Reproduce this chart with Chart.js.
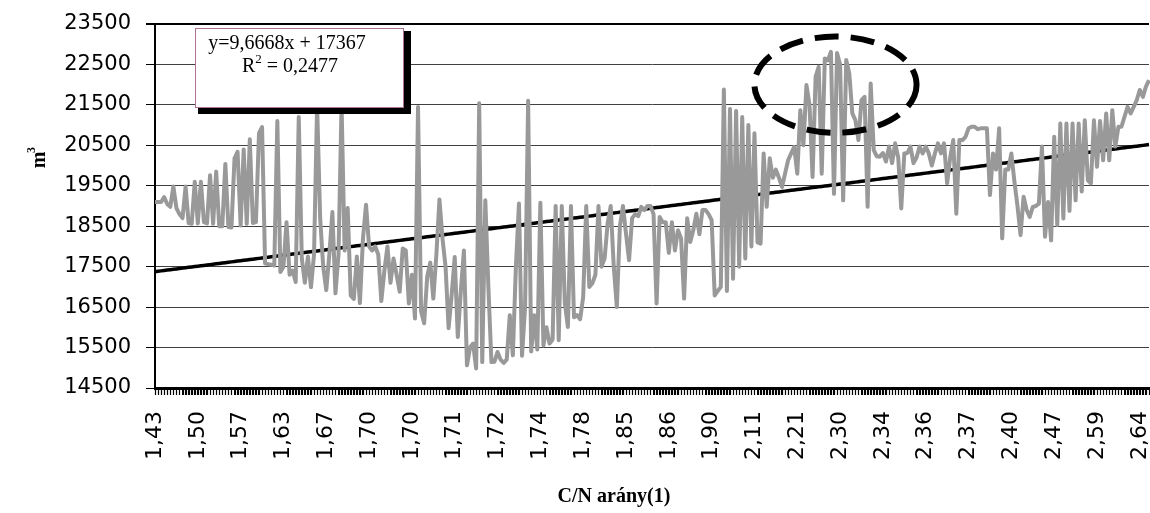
<!DOCTYPE html>
<html>
<head>
<meta charset="utf-8">
<title>C/N arány</title>
<script src="https://cdn.jsdelivr.net/npm/chart.js@4.4.1/dist/chart.umd.min.js"></script>
<style>
    html, body { margin: 0; padding: 0; background: #fff; }
    #wrap { width: 1150px; height: 513px; position: relative; }
</style>
</head>
<body>
<div id="wrap"><canvas id="chart" width="1150" height="513"></canvas></div>
<script>
// tick labels shown every 14th category
const tickLabels = ['1,43', '1,50', '1,57', '1,63', '1,67', '1,70', '1,70', '1,71', '1,72', '1,74', '1,78', '1,85',
    '1,86', '1,90', '2,11', '2,21', '2,30', '2,34', '2,36', '2,37', '2,40', '2,47', '2,59', '2,64'];
const labelStep = 14;

// m3 values
const volumes = [
    19100, 19100, 19100, 19220, 19050, 18980, 19480, 18950, 18800, 18700, 19480, 18580, 18560, 19600, 18570, 19600,
    18600, 18570, 19760, 18560, 19850, 18500, 18500, 20040, 18480, 18470, 20180, 20340, 18520, 20400, 18560, 20650,
    18580, 18600, 20800, 20950, 17580,
    17560, 17550, 17530, 21100, 17370, 17500, 18600, 17300, 17400, 17120, 21200, 17700, 17100, 17750, 16990, 17800,
    21500, 18700, 17500, 16920, 17800, 18850, 16840, 17800, 21500, 17900, 18950, 16790, 16700, 17750, 16600, 18200,
    19030, 18000, 17900, 18000, 17800, 16650, 17400, 18000, 17100, 17700, 17300, 16880, 17950, 17900, 16590, 17300,
    16220, 21450,
    16400, 16100, 17250, 17600, 16710, 17800, 19160, 18200, 17500, 15980, 16800, 17740, 15760, 16900, 17900, 15060,
    15500, 15600, 14980, 21540, 15140, 19140, 17000, 15140, 15150, 15390, 15200, 15120, 15200, 16300, 15310, 17500,
    19060, 15300, 16500, 21600, 15400, 16300, 15450, 19080, 15550, 16000, 15600, 15700, 19000, 15680, 19000, 16600,
    16010, 19000, 16250, 16300, 16200, 16750, 19000, 17000, 17090, 17300, 19000, 17500, 17700, 18570, 19000, 17500,
    16500, 18500, 19000, 18320, 17660, 18700, 18800, 18750, 18980, 18900, 19000, 19000, 18800, 16590, 18730, 18600,
    18600, 17840, 18600, 17900, 18400, 18200, 16710, 18700, 18110, 18400, 18810, 18300, 18900, 18900, 18800, 18650,
    16790, 16900, 17000,
    21880, 16900, 21400, 17200, 21350, 17500, 21200, 17700, 21000, 18000, 20800, 18100, 18070, 20300, 18980, 20180,
    19700, 19900, 19700, 19470, 19800, 20130, 20300, 20460, 19800, 21370, 20500, 21990, 21500, 19720, 22200, 22440,
    19800, 22650, 22600, 22810, 19300, 22780, 22500, 19140, 22610, 22280, 21290, 21120, 20630, 21620, 21700, 18980,
    22030, 20380, 20230, 20220, 20310, 20100, 20470, 20060, 20550, 20200, 18940, 20300, 20310, 20470, 20060, 20200,
    20470, 20300, 20470, 20300, 20000, 20300, 20550, 20300, 20550, 19560, 20200, 20630, 18810, 20630, 20630, 20710,
    20920, 20960, 20960, 20900, 20920, 20920, 20920,
    19270, 20300, 19900, 20920, 18200, 19900, 19900, 20300, 19600, 19000, 18280, 19230, 18900, 18730, 18980, 19000,
    19060, 20470, 18240, 19100, 18150, 20710, 18530, 21040, 18690, 21040, 18880, 21040, 19140, 21040, 19360, 21120,
    19640, 19560, 21120, 19970, 21100, 20130, 21290, 20130, 21370, 20470, 20960, 20960, 21210, 21450, 21290, 21450,
    21620, 21870, 21700, 21950, 22110
];

// linear trend as printed in the chart
const trendSlope = 9.6668;
const trendIntercept = 17367;
const trendText = ['y=9,6668x + 17367', 'R', '2', ' = 0,2477'];

const categories = volumes.map((v, i) => (i % labelStep === 0 ? (tickLabels[i / labelStep] || '') : ''));
const trend = volumes.map((v, i) => trendSlope * (i + 1) + trendIntercept);

const sansFont = "'DejaVu Sans', 'Liberation Sans', Arial, sans-serif";
const serifFont = "'Liberation Serif', 'Times New Roman', serif";

const extras = {
    id: 'extras',
    afterDatasetsDraw(chart) {
        const ctx = chart.ctx;
        const x = chart.scales.x;
        const y = chart.scales.y;
        const area = chart.chartArea;

        // trendline label box with shadow
        const bx = area.left + 40, by = area.top + 4, bw = 209, bh = 80;
        ctx.save();
        ctx.fillStyle = '#000';
        ctx.fillRect(bx + bw, by + 3, 7, bh + 3);
        ctx.fillRect(bx + 3, by + bh, bw + 4, 6);
        ctx.fillStyle = '#fff';
        ctx.fillRect(bx, by, bw, bh);
        ctx.strokeStyle = '#b07090';
        ctx.lineWidth = 1;
        ctx.strokeRect(bx + 0.5, by + 0.5, bw - 1, bh - 1);
        ctx.fillStyle = '#000';
        ctx.font = '20px ' + serifFont;
        ctx.textAlign = 'center';
        ctx.textBaseline = 'alphabetic';
        ctx.fillText(trendText[0], bx + 92, by + 21);
        // R² line with superscript
        const w1 = ctx.measureText(trendText[1]).width;
        ctx.font = '13px ' + serifFont;
        const w2 = ctx.measureText(trendText[2]).width;
        ctx.font = '20px ' + serifFont;
        const w3 = ctx.measureText(trendText[3]).width;
        let sx = bx + 95 - (w1 + w2 + w3) / 2;
        ctx.textAlign = 'left';
        ctx.fillText(trendText[1], sx, by + 44);
        ctx.font = '13px ' + serifFont;
        ctx.fillText(trendText[2], sx + w1, by + 35);
        ctx.font = '20px ' + serifFont;
        ctx.fillText(trendText[3], sx + w1 + w2, by + 44);
        ctx.restore();

        // dashed ellipse round the peak
        const cx = x.getPixelForValue(222.5);
        const cy = y.getPixelForValue(22000);
        const rx = x.getPixelForValue(222.5 + 26.5) - cx;
        const ry = y.getPixelForValue(22000 - 1190) - cy;
        ctx.save();
        ctx.beginPath();
        ctx.ellipse(cx, cy, rx, ry, 0, 0, Math.PI * 2);
        ctx.setLineDash([24, 12]);
        ctx.lineWidth = 6;
        ctx.strokeStyle = '#000';
        ctx.stroke();
        ctx.restore();
    },
    afterDraw(chart) {
        const ctx = chart.ctx;
        const x = chart.scales.x;
        const bottom = chart.chartArea.bottom;

        // one small tick mark under every category
        ctx.save();
        ctx.strokeStyle = '#000';
        ctx.lineWidth = 1.2;
        ctx.beginPath();
        for (let i = 0; i < categories.length; i++) {
            const px = Math.round(x.getPixelForTick(i)) + 0.5;
            ctx.moveTo(px, bottom);
            ctx.lineTo(px, bottom + 7);
        }
        ctx.stroke();
        ctx.restore();

        ctx.save();
        ctx.fillStyle = '#000';
        ctx.font = 'bold 20px ' + serifFont;
        ctx.textAlign = 'center';
        ctx.textBaseline = 'middle';
        ctx.fillText('C/N arány(1)', 614, 497);
        ctx.translate(40, 160);
        ctx.rotate(-Math.PI / 2);
        ctx.font = 'bold 20px ' + serifFont;
        ctx.fillText('m', 0, 0);
        ctx.font = 'bold 12px ' + serifFont;
        ctx.fillText('3', 10, -8);
        ctx.restore();
    }
};

document.addEventListener('DOMContentLoaded', function() {
    const ctx = document.getElementById('chart').getContext('2d');

    new Chart(ctx, {
        type: 'line',
        data: {
            labels: categories,
            datasets: [{
                data: volumes,
                borderColor: '#999999',
                borderWidth: 4,
                borderJoinStyle: 'round',
                pointRadius: 0,
                tension: 0
            }, {
                data: trend,
                borderColor: '#000',
                borderWidth: 3.5,
                pointRadius: 0,
                tension: 0
            }]
        },
        options: {
            responsive: false,
            animation: false,
            devicePixelRatio: 1,
            layout: { padding: { left: 0, right: 1, top: 24, bottom: 0 } },
            plugins: {
                legend: { display: false },
                tooltip: { enabled: false }
            },
            scales: {
                x: {
                    offset: false,
                    border: { color: '#000', width: 3 },
                    grid: {
                        drawOnChartArea: false,
                        drawTicks: true,
                        tickLength: 7,
                        tickColor: '#000',
                        lineWidth: 1
                    },
                    ticks: {
                        autoSkip: false,
                        maxRotation: 90,
                        minRotation: 90,
                        padding: 16,
                        color: '#000',
                        font: { family: sansFont, size: 22 }
                    },
                    afterFit(scale) {
                        scale.height = 125;
                        scale.paddingLeft = 0;
                        scale.paddingRight = 0;
                    }
                },
                y: {
                    min: 14500,
                    max: 23500,
                    border: { color: '#000', width: 2 },
                    grid: {
                        color: ctx => (ctx.tick && ctx.tick.value === 23500 ? '#000' : '#404040'),
                        lineWidth: ctx => (ctx.tick && ctx.tick.value === 23500 ? 2 : 1),
                        tickLength: 9,
                        tickColor: '#000'
                    },
                    ticks: {
                        stepSize: 1000,
                        padding: 15,
                        color: '#000',
                        font: { family: sansFont, size: 21 },
                        callback: value => String(value)
                    },
                    afterFit(scale) {
                        scale.width = 155;
                        scale.paddingTop = 0;
                        scale.paddingBottom = 0;
                    }
                }
            }
        },
        plugins: [extras]
    });
});
</script>
</body>
</html>
